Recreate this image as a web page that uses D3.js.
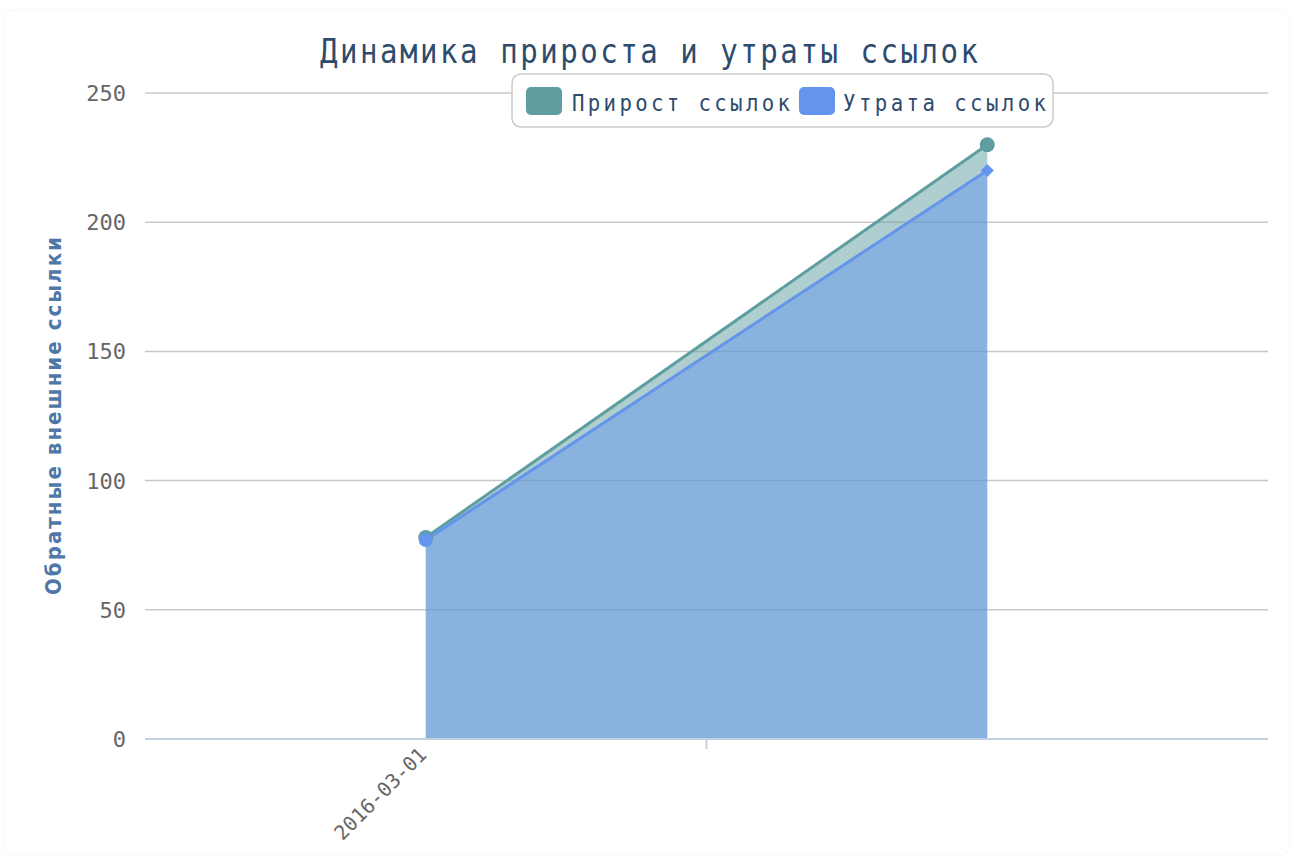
<!DOCTYPE html>
<html><head><meta charset="utf-8">
<script src="https://cdn.jsdelivr.net/npm/d3@7"></script>
<style>body{margin:0;background:#fff}svg{display:block}</style>
</head><body>
<svg id="c" width="1293" height="857"></svg>
<script>
const categories = ["2016-03-01", ""];
const growth = [78, 230];
const loss = [77, 220];
const yTicks = [0, 50, 100, 150, 200, 250];
const seriesNames = ["Прирост ссылок", "Утрата ссылок"];
const titleText = "Динамика прироста и утраты ссылок";
const yTitle = "Обратные внешние ссылки";

const W = 1293, H = 857;
const m = {left:145, right:25, top:93, bottom:118};
const svg = d3.select("#c");
const mono = "'DejaVu Sans Mono', monospace";

svg.append("rect").attr("x",3).attr("y",10).attr("width",W-6).attr("height",H-12)
  .attr("rx",10).attr("fill","#fff").attr("stroke","#f8f8f8");

const x = d3.scaleBand().domain(d3.range(categories.length)).range([m.left, W-m.right]);
const y = d3.scaleLinear().domain([0,250]).range([H-m.bottom, m.top]);
const cx = i => x(i) + x.bandwidth()/2;

function narrowText(parent, tx, ty, txt, size, sx, w, anchor, color){
  const g = parent.append("g").attr("transform",`translate(${tx},${ty}) scale(${sx},1)`);
  return g.append("text").attr("x",0).attr("y",0).attr("text-anchor",anchor)
    .attr("font-family",mono).attr("font-size",size).attr("fill",color)
    .attr("textLength",w/sx).attr("lengthAdjust","spacing").text(txt);
}

const g = svg.append("g");
g.selectAll("line.grid").data(yTicks.filter(d=>d>0)).join("line")
  .attr("x1",m.left).attr("x2",W-m.right).attr("y1",d=>y(d)).attr("y2",d=>y(d))
  .attr("stroke","#c8c8c8").attr("stroke-width",1.5);

g.selectAll("text.yt").data(yTicks).join("text")
  .attr("x",126).attr("y",d=>y(d)+8).attr("text-anchor","end")
  .attr("font-family",mono).attr("font-size",22).attr("fill","#666").text(d=>d);

const area = vals => d3.area().x((d,i)=>cx(i)).y0(y(0)).y1(d=>y(d))(vals);
const line = vals => d3.line().x((d,i)=>cx(i)).y(d=>y(d))(vals);
svg.append("path").attr("d",area(growth)).attr("fill","#5F9EA0").attr("fill-opacity",0.5);
svg.append("path").attr("d",area(loss)).attr("fill","#6495ED").attr("fill-opacity",0.5);

svg.append("line").attr("x1",m.left).attr("x2",W-m.right).attr("y1",y(0)).attr("y2",y(0))
  .attr("stroke","#c0d0e0").attr("stroke-width",2);
for (let i=1;i<categories.length;i++){
  svg.append("line").attr("x1",x(i)).attr("x2",x(i)).attr("y1",y(0)).attr("y2",y(0)+10)
    .attr("stroke","#c0d0e0").attr("stroke-width",2);
}
categories.forEach((c,i)=>{
  if(!c) return;
  svg.append("text").attr("transform",`translate(${cx(i)+2},${y(0)+17}) rotate(-45)`)
    .attr("text-anchor","end").attr("font-family",mono).attr("font-size",20)
    .attr("fill","#666").text(c);
});

svg.append("path").attr("d",line(growth)).attr("fill","none").attr("stroke","#5F9EA0").attr("stroke-width",3);
svg.append("path").attr("d",line(loss)).attr("fill","none").attr("stroke","#6495ED").attr("stroke-width",3);

growth.forEach((v,i)=>svg.append("circle").attr("cx",cx(i)).attr("cy",y(v)).attr("r",7.5).attr("fill","#5F9EA0"));
loss.forEach((v,i)=>{
  if(i===0) svg.append("circle").attr("cx",cx(i)).attr("cy",y(v)).attr("r",7).attr("fill","#6495ED");
  else svg.append("path").attr("transform",`translate(${cx(i)},${y(v)})`)
    .attr("d",d3.symbol(d3.symbolDiamond2,110)()).attr("fill","#6495ED");
});

narrowText(svg, 649, 63, titleText, 33, 0.88, 658, "middle", "#2d4b6e");

svg.append("text").attr("transform","translate(61,416) rotate(-90)").attr("text-anchor","middle")
  .attr("font-family","'DejaVu Sans Condensed','DejaVu Sans',sans-serif").attr("font-weight","bold")
  .attr("font-size",22).attr("fill","#4f78a8").attr("textLength",358).attr("lengthAdjust","spacing")
  .text(yTitle);

const lg = svg.append("g");
lg.append("rect").attr("x",512).attr("y",74).attr("width",541).attr("height",53).attr("rx",9)
  .attr("fill","#fff").attr("stroke","#cccccc").attr("stroke-width",1.5);
const legendItems = [{name:seriesNames[0],color:"#5F9EA0",sx:526,tx:572,tw:218},{name:seriesNames[1],color:"#6495ED",sx:799,tx:843,tw:203}];
legendItems.forEach(d=>{
  lg.append("rect").attr("x",d.sx).attr("y",87).attr("width",36).attr("height",28).attr("rx",5).attr("fill",d.color);
  narrowText(lg, d.tx, 111, d.name, 23, 0.9, d.tw, "start", "#2d4b6e");
});
</script>
</body></html>
